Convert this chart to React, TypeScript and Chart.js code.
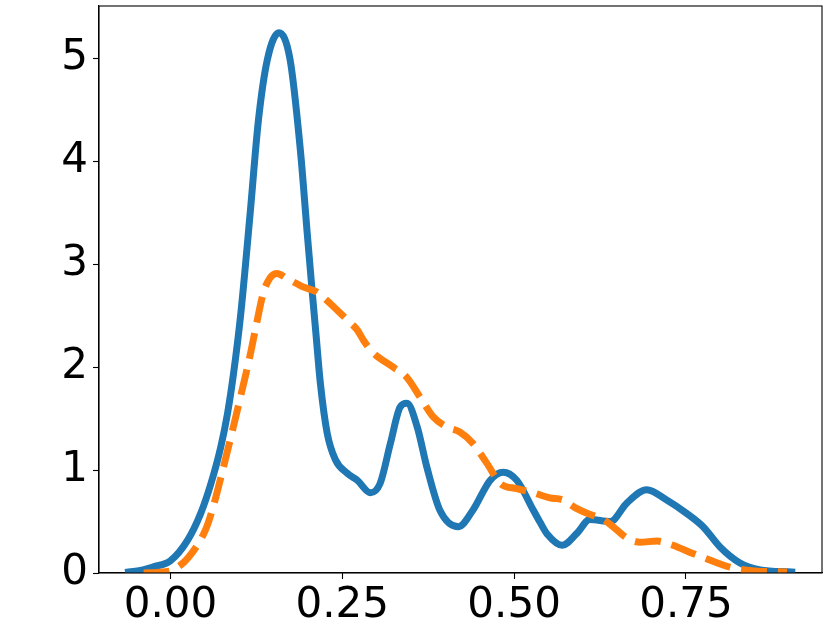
import React, { useEffect, useRef } from "react";
import { Chart, registerables } from "chart.js";

Chart.register(...registerables);

const blueX = [-0.061, -0.04, -0.025, 0.0, 0.025, 0.044, 0.058, 0.073, 0.083, 0.092, 0.102, 0.116, 0.128, 0.141, 0.158, 0.174, 0.189, 0.199, 0.206, 0.212, 0.218, 0.228, 0.24, 0.257, 0.272, 0.291, 0.305, 0.32, 0.334, 0.344, 0.359, 0.373, 0.392, 0.419, 0.44, 0.465, 0.484, 0.504, 0.528, 0.538, 0.548, 0.57, 0.592, 0.61, 0.64, 0.664, 0.693, 0.722, 0.751, 0.775, 0.8, 0.828, 0.858, 0.904];
const blueY = [0.01, 0.03, 0.06, 0.12, 0.32, 0.58, 0.85, 1.22, 1.55, 1.95, 2.5, 3.5, 4.4, 4.99, 5.25, 4.99, 4.11, 3.3, 2.75, 2.3, 1.85, 1.36, 1.1, 0.97, 0.9, 0.78, 0.87, 1.26, 1.61, 1.65, 1.42, 1.03, 0.61, 0.45, 0.61, 0.9, 0.98, 0.9, 0.61, 0.49, 0.38, 0.27, 0.39, 0.52, 0.5, 0.68, 0.81, 0.71, 0.58, 0.45, 0.25, 0.1, 0.03, 0.01];

const orangeX = [-0.039, -0.02, 0.0, 0.007, 0.026, 0.051, 0.062, 0.073, 0.09, 0.105, 0.116, 0.124, 0.135, 0.145, 0.155, 0.17, 0.193, 0.213, 0.222, 0.237, 0.251, 0.262, 0.272, 0.281, 0.295, 0.324, 0.344, 0.363, 0.382, 0.402, 0.421, 0.44, 0.46, 0.48, 0.504, 0.528, 0.552, 0.571, 0.59, 0.606, 0.63, 0.644, 0.664, 0.683, 0.708, 0.731, 0.76, 0.795, 0.818, 0.85, 0.897];
const orangeY = [0.0, 0.005, 0.02, 0.04, 0.15, 0.42, 0.64, 0.92, 1.38, 1.8, 2.12, 2.38, 2.72, 2.87, 2.91, 2.86, 2.78, 2.73, 2.68, 2.59, 2.5, 2.43, 2.36, 2.26, 2.14, 2.0, 1.9, 1.71, 1.52, 1.42, 1.37, 1.26, 1.07, 0.87, 0.82, 0.78, 0.73, 0.71, 0.63, 0.58, 0.52, 0.45, 0.34, 0.3, 0.31, 0.27, 0.19, 0.1, 0.05, 0.02, 0.01];

const xTicks = [0, 0.25, 0.5, 0.75];
const yTicks = [0, 1, 2, 3, 4, 5];

const frame = {
  id: "frame",
  afterDraw(chart: any) {
    const { ctx, chartArea } = chart;
    ctx.save();
    ctx.strokeStyle = "#000";
    ctx.lineWidth = 1.1;
    ctx.strokeRect(chartArea.left, chartArea.top, chartArea.right - chartArea.left, chartArea.bottom - chartArea.top);
    ctx.restore();
  },
};

export default function App() {
  const ref = useRef<HTMLCanvasElement>(null);
  useEffect(() => {
    const font = { family: "DejaVu Sans", size: 42 };
    const chart = new Chart(ref.current!, {
      type: "line",
      data: {
        datasets: [
          {
            data: blueX.map((x, i) => ({ x, y: blueY[i] })),
            borderColor: "#1f77b4",
            borderWidth: 7,
            pointRadius: 0,
            cubicInterpolationMode: "monotone",
            borderCapStyle: "square",
            order: 2,
          },
          {
            data: orangeX.map((x, i) => ({ x, y: orangeY[i] })),
            borderColor: "#ff7f0e",
            borderWidth: 7,
            pointRadius: 0,
            cubicInterpolationMode: "monotone",
            borderDash: [26, 11],
            borderCapStyle: "butt",
            order: 1,
          },
        ],
      },
      plugins: [frame],
      options: {
        animation: false,
        responsive: false,
        layout: { padding: { left: 0, right: 8, top: 6, bottom: 0 } },
        plugins: { legend: { display: false }, tooltip: { enabled: false } },
        scales: {
          x: {
            type: "linear",
            min: -0.104,
            max: 0.948,
            afterBuildTicks: (s: any) => { s.ticks = xTicks.map((v) => ({ value: v })); },
            afterFit: (s: any) => { s.height = 50; s.paddingLeft = 0; s.paddingRight = 0; },
            grid: { drawOnChartArea: false, color: "#000", tickLength: 6, tickWidth: 1.1 },
            border: { color: "#000", width: 1.1 },
            ticks: { font, color: "#000", padding: 2, maxRotation: 0, callback: (v: any) => Number(v).toFixed(2) },
          },
          y: {
            type: "linear",
            min: 0,
            max: 5.51,
            afterBuildTicks: (s: any) => { s.ticks = yTicks.map((v) => ({ value: v })); },
            afterFit: (s: any) => { s.width = 99; s.paddingTop = 0; s.paddingBottom = 0; },
            grid: { drawOnChartArea: false, color: "#000", tickLength: 6, tickWidth: 1.1 },
            border: { color: "#000", width: 1.1 },
            ticks: { font, color: "#000", padding: 5, callback: (v: any) => String(v) },
          },
        },
      },
    });
    return () => chart.destroy();
  }, []);
  return (
    <div style={{ position: "absolute", left: 0, top: 0, width: 830, height: 623, background: "#fff" }}>
      <canvas ref={ref} width={830} height={623} />
    </div>
  );
}
